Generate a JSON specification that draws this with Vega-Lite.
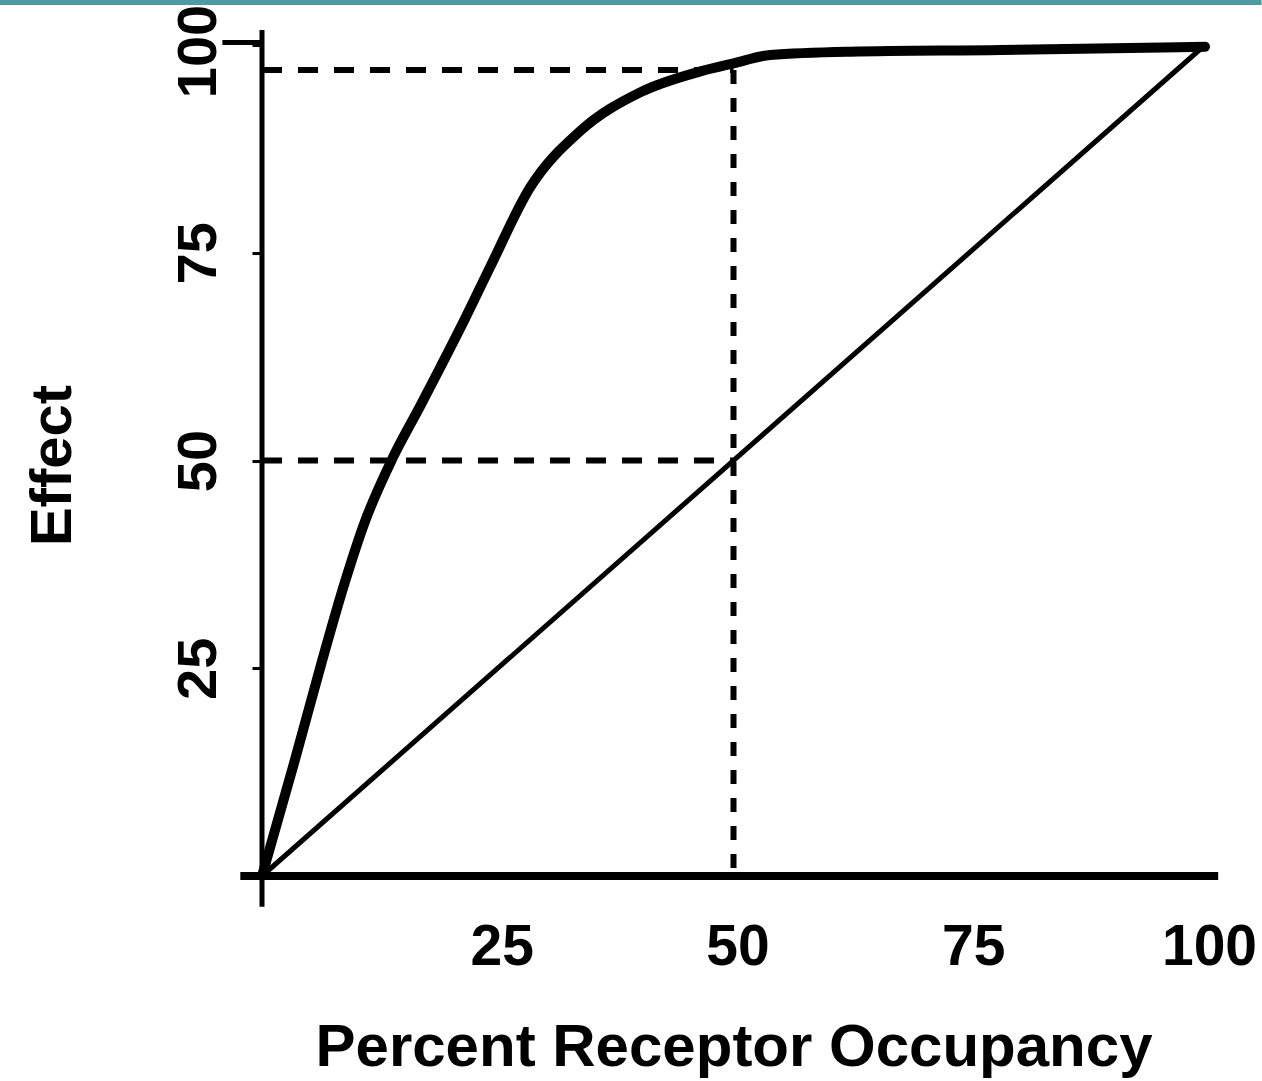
{
  "$schema": "https://vega.github.io/schema/vega-lite/v6.json",
  "width": 943,
  "height": 831,
  "autosize": {"type": "none"},
  "padding": {"left": 262, "top": 45, "right": 57, "bottom": 205},
  "background": "white",
  "config": {"view": {"stroke": null}, "font": "Liberation Sans"},
  "datasets": {
    "curve": [
      {"x": 0, "y": 0}, {"x": 3.5, "y": 14.0}, {"x": 6.4, "y": 26.0}, {"x": 8.8, "y": 35.4},
      {"x": 10.9, "y": 42.6}, {"x": 13.9, "y": 50.4}, {"x": 16.8, "y": 56.6}, {"x": 18.9, "y": 61.2},
      {"x": 21.5, "y": 67.0}, {"x": 24.2, "y": 73.3}, {"x": 28.4, "y": 82.8}, {"x": 33.7, "y": 89.6},
      {"x": 40.1, "y": 94.3}, {"x": 46.4, "y": 96.8}, {"x": 50.0, "y": 97.8}, {"x": 53.9, "y": 98.8},
      {"x": 62.4, "y": 99.2}, {"x": 78.3, "y": 99.4}, {"x": 100, "y": 99.8}
    ],
    "diagonal": [{"x": 0, "y": 0}, {"x": 100, "y": 100}],
    "hdash": [
      {"x": 0, "y": 97, "line": "top"}, {"x": 50, "y": 97, "line": "top"},
      {"x": 0, "y": 50, "line": "mid"}, {"x": 50, "y": 50, "line": "mid"}
    ],
    "vdash": [{"x": 50, "y": 97}, {"x": 50, "y": 0}],
    "xaxisline": [{"x": -2.3, "x2": 101.4, "y": 0, "y2": 0}],
    "yaxisline": [{"x": 0, "x2": 0, "y": -3.7, "y2": 101.8}, {"x": -4.2, "x2": 0, "y": 100.3, "y2": 100.3}],
    "topband": [{"x": -28, "x2": 106, "y": 105.1}]
  },
  "encoding": {
    "x": {
      "field": "x", "type": "quantitative",
      "scale": {"domain": [0, 100], "nice": false, "zero": false},
      "axis": {
        "values": [25, 50, 75, 100], "domain": false, "grid": false, "ticks": false, "tickSize": 0,
        "labelFont": "Liberation Sans", "labelFontSize": 57, "labelFontWeight": "bold", "labelColor": "black",
        "labelBaseline": "alphabetic", "labelPadding": 88, "labelFlush": false, "labelOverlap": false,
        "labelOffset": 4,
        "title": "Percent Receptor Occupancy", "titleFont": "Liberation Sans", "titleFontSize": 60,
        "titleFontWeight": "bold", "titleColor": "black", "titleBaseline": "alphabetic", "titleY": 189
      }
    },
    "y": {
      "field": "y", "type": "quantitative",
      "scale": {"domain": [0, 100], "nice": false, "zero": false},
      "axis": {
        "values": [25, 50, 75, 100], "domain": false, "grid": false, "ticks": true, "tickSize": 10,
        "tickWidth": 3, "tickColor": "black",
        "labelFont": "Liberation Sans", "labelFontSize": 56, "labelFontWeight": "bold", "labelColor": "black",
        "labelAngle": 270, "labelAlign": "center", "labelBaseline": "alphabetic", "labelPadding": 37,
        "labelFlush": false, "labelOverlap": false,
        "labelOffset": {"condition": {"test": "datum.value == 100", "value": 6}, "value": 0},
        "title": "Effect", "titleFont": "Liberation Sans", "titleFontSize": 58, "titleFontWeight": "bold",
        "titleColor": "black", "titleAngle": 270, "titleAlign": "center", "titleBaseline": "alphabetic",
        "titleX": -192, "titleY": 420
      }
    }
  },
  "layer": [
    {
      "data": {"name": "topband"},
      "mark": {"type": "rule", "color": "#4b9ca4", "strokeWidth": 5},
      "encoding": {"x2": {"field": "x2"}}
    },
    {
      "data": {"name": "hdash"},
      "mark": {"type": "line", "color": "black", "strokeWidth": 6, "strokeDash": [20, 16]},
      "encoding": {"detail": {"field": "line"}}
    },
    {
      "data": {"name": "vdash"},
      "mark": {"type": "line", "color": "black", "strokeWidth": 6, "strokeDash": [14, 14]},
      "encoding": {}
    },
    {
      "data": {"name": "diagonal"},
      "mark": {"type": "line", "color": "black", "strokeWidth": 5},
      "encoding": {}
    },
    {
      "data": {"name": "curve"},
      "mark": {"type": "line", "color": "black", "strokeWidth": 10, "interpolate": "monotone", "strokeCap": "round"},
      "encoding": {}
    },
    {
      "data": {"name": "xaxisline"},
      "mark": {"type": "rule", "color": "black", "strokeWidth": 8},
      "encoding": {"x2": {"field": "x2"}, "y2": {"field": "y2"}}
    },
    {
      "data": {"name": "yaxisline"},
      "mark": {"type": "rule", "color": "black", "strokeWidth": 5},
      "encoding": {"x2": {"field": "x2"}, "y2": {"field": "y2"}}
    }
  ]
}
